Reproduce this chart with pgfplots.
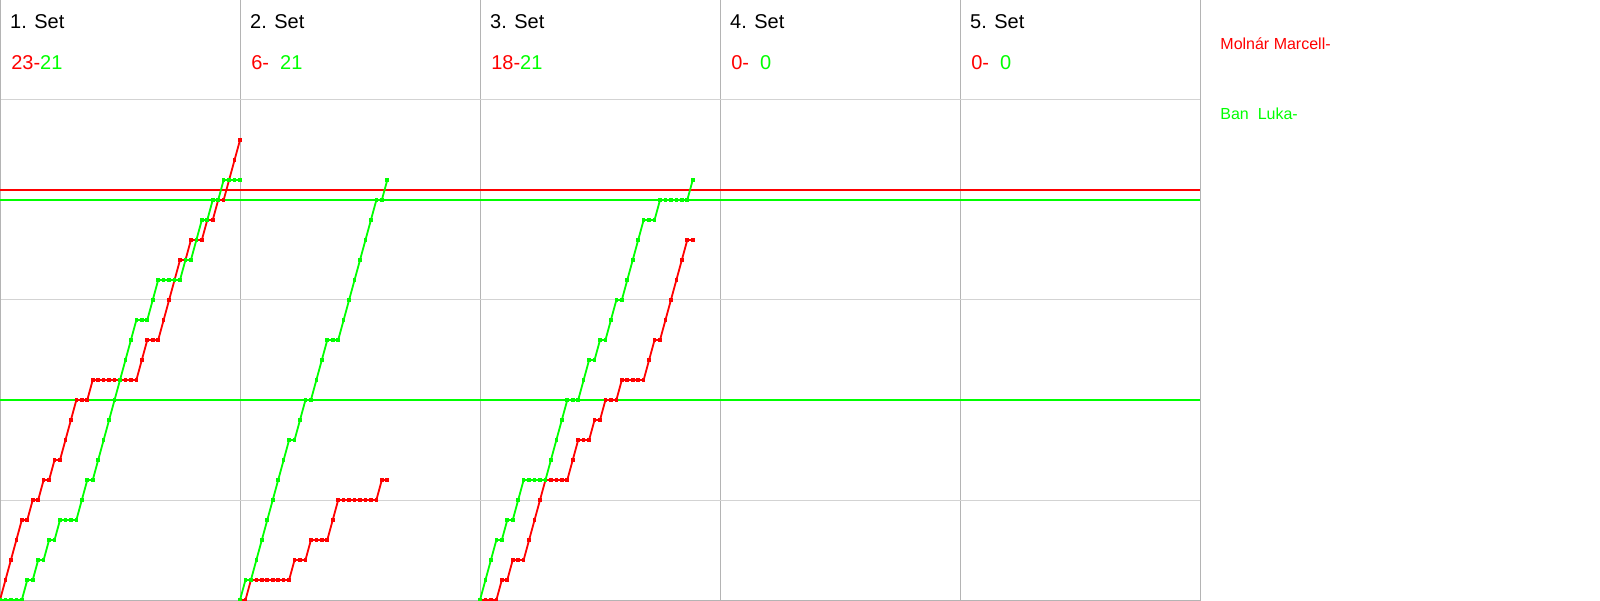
\documentclass[border=0pt]{standalone}
\usepackage{pgfplots}
\pgfplotsset{compat=1.18}
\usepackage{fontspec}
\setmainfont{Liberation Sans}
\definecolor{pr}{RGB}{255,0,0}
\definecolor{pg}{RGB}{0,255,0}
\definecolor{vgrid}{RGB}{180,180,180}
\definecolor{hgrid}{RGB}{211,211,211}
\tikzset{
  hdr/.style={anchor=base west, inner sep=0pt, font=\fontsize{10pt}{12pt}\selectfont},
  leg/.style={anchor=base west, inner sep=0pt, font=\fontsize{8pt}{10pt}\selectfont},
}
\begin{document}
\begin{tikzpicture}
\begin{axis}[
  at={(0,0)}, anchor=south west,
  width=600pt, height=300pt, scale only axis,
  xmin=0, xmax=220, ymin=0, ymax=30,
  xtick={44,88,132,176}, ytick={5,15,25},
  xticklabels={}, yticklabels={},
  major tick length=0pt,
  grid=major,
  x grid style={color=vgrid, line width=0.5pt},
  y grid style={color=hgrid, line width=0.5pt},
  axis line style={draw=vgrid, line width=0.5pt},
  clip=false,
  every axis plot/.append style={line width=0.9pt, mark=square*, mark size=0.45pt},
]
% reference lines
\addplot[pr, line width=0.65pt, no marks] coordinates {(0,20.5) (220,20.5)};
\addplot[pg, line width=0.65pt, no marks] coordinates {(0,20) (220,20)};
\addplot[pg, line width=0.65pt, no marks] coordinates {(0,10) (220,10)};
% Set 1
\addplot[pr] coordinates {(0,0)(1,1)(2,2)(3,3)(4,4)(5,4)(6,5)(7,5)(8,6)(9,6)(10,7)(11,7)(12,8)(13,9)(14,10)(15,10)(16,10)(17,11)(18,11)(19,11)(20,11)(21,11)(22,11)(23,11)(24,11)(25,11)(26,12)(27,13)(28,13)(29,13)(30,14)(31,15)(32,16)(33,17)(34,17)(35,18)(36,18)(37,18)(38,19)(39,19)(40,20)(41,20)(42,21)(43,22)(44,23)};
\addplot[pg] coordinates {(0,0)(1,0)(2,0)(3,0)(4,0)(5,1)(6,1)(7,2)(8,2)(9,3)(10,3)(11,4)(12,4)(13,4)(14,4)(15,5)(16,6)(17,6)(18,7)(19,8)(20,9)(21,10)(22,11)(23,12)(24,13)(25,14)(26,14)(27,14)(28,15)(29,16)(30,16)(31,16)(32,16)(33,16)(34,17)(35,17)(36,18)(37,19)(38,19)(39,20)(40,20)(41,21)(42,21)(43,21)(44,21)};
% Set 2 (offset 44)
\addplot[pr] coordinates {(44,0)(45,0)(46,1)(47,1)(48,1)(49,1)(50,1)(51,1)(52,1)(53,1)(54,2)(55,2)(56,2)(57,3)(58,3)(59,3)(60,3)(61,4)(62,5)(63,5)(64,5)(65,5)(66,5)(67,5)(68,5)(69,5)(70,6)(71,6)};
\addplot[pg] coordinates {(44,0)(45,1)(46,1)(47,2)(48,3)(49,4)(50,5)(51,6)(52,7)(53,8)(54,8)(55,9)(56,10)(57,10)(58,11)(59,12)(60,13)(61,13)(62,13)(63,14)(64,15)(65,16)(66,17)(67,18)(68,19)(69,20)(70,20)(71,21)};
% Set 3 (offset 88)
\addplot[pr] coordinates {(88,0)(89,0)(90,0)(91,0)(92,1)(93,1)(94,2)(95,2)(96,2)(97,3)(98,4)(99,5)(100,6)(101,6)(102,6)(103,6)(104,6)(105,7)(106,8)(107,8)(108,8)(109,9)(110,9)(111,10)(112,10)(113,10)(114,11)(115,11)(116,11)(117,11)(118,11)(119,12)(120,13)(121,13)(122,14)(123,15)(124,16)(125,17)(126,18)(127,18)};
\addplot[pg] coordinates {(88,0)(89,1)(90,2)(91,3)(92,3)(93,4)(94,4)(95,5)(96,6)(97,6)(98,6)(99,6)(100,6)(101,7)(102,8)(103,9)(104,10)(105,10)(106,10)(107,11)(108,12)(109,12)(110,13)(111,13)(112,14)(113,15)(114,15)(115,16)(116,17)(117,18)(118,19)(119,19)(120,19)(121,20)(122,20)(123,20)(124,20)(125,20)(126,20)(127,21)};
% top border
\draw[black, line width=0.5pt] (rel axis cs:0,1) -- (rel axis cs:1,1);
% headers
\node[hdr] at (axis cs:1.8,28.55) {1. Set};
\node[hdr] at (axis cs:45.8,28.55) {2. Set};
\node[hdr] at (axis cs:89.8,28.55) {3. Set};
\node[hdr] at (axis cs:133.8,28.55) {4. Set};
\node[hdr] at (axis cs:177.8,28.55) {5. Set};
\node[hdr] at (axis cs:2,26.5) {\textcolor{pr}{23-}\textcolor{pg}{21}};
\node[hdr] at (axis cs:46,26.5) {\textcolor{pr}{6-}\ \ \textcolor{pg}{21}};
\node[hdr] at (axis cs:90,26.5) {\textcolor{pr}{18-}\textcolor{pg}{21}};
\node[hdr] at (axis cs:134,26.5) {\textcolor{pr}{0-}\ \ \textcolor{pg}{0}};
\node[hdr] at (axis cs:178,26.5) {\textcolor{pr}{0-}\ \ \textcolor{pg}{0}};
% legend
\node[leg, text=pr] at (axis cs:223.67,27.5) {Molnár Marcell-};
\node[leg, text=pg] at (axis cs:223.67,24) {Ban\ \ Luka-};
\end{axis}
\pgfresetboundingbox
\path (0,0) rectangle (800pt,300pt);
\end{tikzpicture}
\end{document}
